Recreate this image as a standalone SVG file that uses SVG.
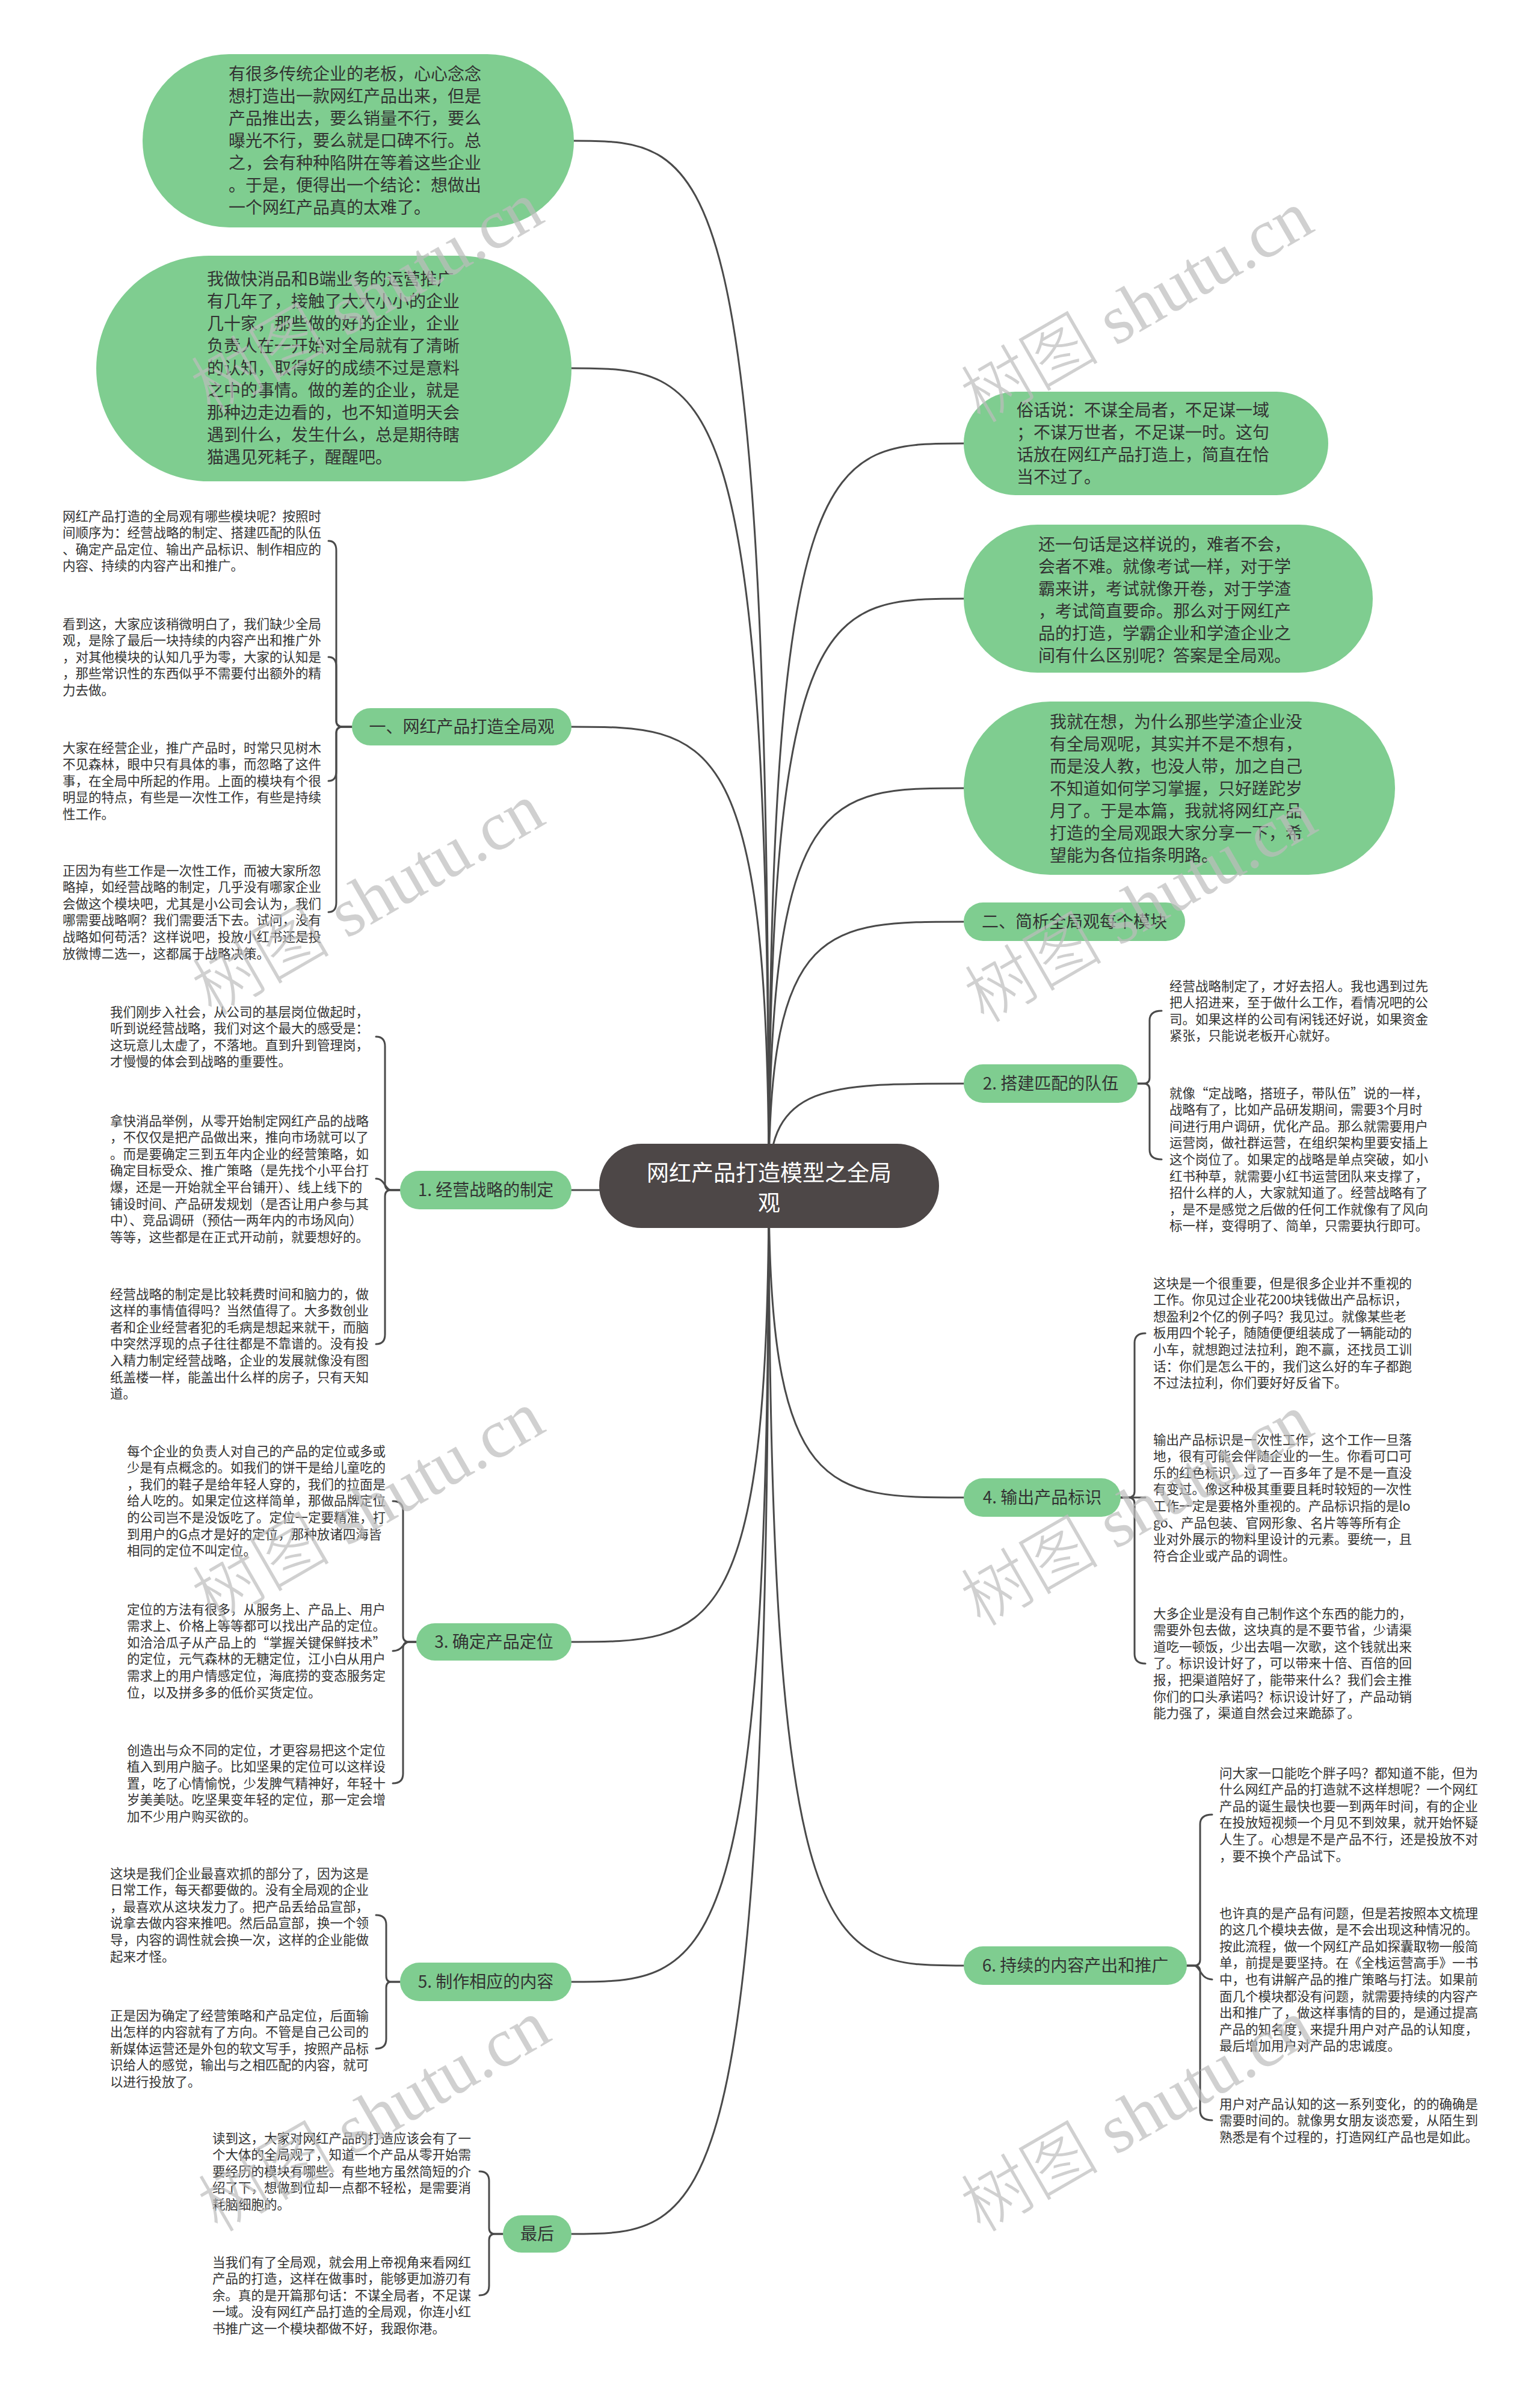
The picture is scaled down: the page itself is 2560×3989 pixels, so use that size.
<svg xmlns="http://www.w3.org/2000/svg" width="2560" height="3989" viewBox="0 0 2560 3989">
<style>
.bg{fill:#ffffff}
.node{fill:#7fcd90}
.root{fill:#4d4747}
.link{fill:none;stroke:#4a4a4a;stroke-width:3;stroke-linecap:round;stroke-linejoin:round}
.t{font-family:"Noto Sans CJK SC","Noto Sans",sans-serif;font-size:21.5px;fill:#333333}
.b{font-family:"Noto Sans CJK SC","Noto Sans",sans-serif;font-size:28px;fill:#333333}
.n{font-family:"Noto Sans CJK SC","Noto Sans",sans-serif;font-size:28px;fill:#333333;text-anchor:middle}
.c{font-family:"Noto Sans CJK SC","Noto Sans",sans-serif;font-size:37px;fill:#ffffff;text-anchor:middle}
.wm{font-size:115px;fill:#bdbdbd;opacity:0.7}
.wz{font-family:"Noto Sans CJK SC",sans-serif;font-weight:300}
.we{font-family:"Liberation Serif",serif}
</style>
<rect class="bg" x="0" y="0" width="2560" height="3989"/>

<g id="connectors">
<path class="link" d="M1278 1970 C1278 234 1180.8 234 954 234"/>
<path class="link" d="M1278 1970 C1278 612 1179.6 612 950 612"/>
<path class="link" d="M1278 1970 C1278 1208 1179.6 1208 950 1208"/>
<path class="link" d="M1278 1970 C1278 1978 1179.6 1978 950 1978"/>
<path class="link" d="M1278 1970 C1278 2729 1179.6 2729 950 2729"/>
<path class="link" d="M1278 1970 C1278 3294 1179.6 3294 950 3294"/>
<path class="link" d="M1278 1970 C1278 3713 1179.6 3713 950 3713"/>
<path class="link" d="M1278 1970 C1278 737 1375.2 737 1602 737"/>
<path class="link" d="M1278 1970 C1278 995 1375.2 995 1602 995"/>
<path class="link" d="M1278 1970 C1278 1310 1375.2 1310 1602 1310"/>
<path class="link" d="M1278 1970 C1278 1532 1375.2 1532 1602 1532"/>
<path class="link" d="M1278 1970 C1278 1801 1375.2 1801 1602 1801"/>
<path class="link" d="M1278 1970 C1278 2489 1375.2 2489 1602 2489"/>
<path class="link" d="M1278 1970 C1278 3267 1375.2 3267 1602 3267"/>

<path class="link" d="M585 1208 L570 1208 Q559 1208 559 1198 L559 915 Q559 899 546 899"/>
<path class="link" d="M585 1208 L570 1208 Q559 1208 559 1198 L559 1108 Q559 1092 546 1092"/>
<path class="link" d="M585 1208 L570 1208 Q559 1208 559 1218 L559 1282 Q559 1298 546 1298"/>
<path class="link" d="M585 1208 L570 1208 Q559 1208 559 1218 L559 1500 Q559 1516 546 1516"/>

<path class="link" d="M665 1978 L650 1978 Q640 1978 640 1968 L640 1739 Q640 1723 625 1723"/>
<path class="link" d="M665 1978 L650 1978 C640 1978 640 1959 625 1959"/>
<path class="link" d="M665 1978 L650 1978 Q640 1978 640 1988 L640 2218 Q640 2234 625 2234"/>

<path class="link" d="M692 2729 L680 2729 Q670 2729 670 2719 L670 2511 Q670 2495 653 2495"/>
<path class="link" d="M692 2729 L680 2729 C670 2729 670 2744 653 2744"/>
<path class="link" d="M692 2729 L680 2729 Q670 2729 670 2739 L670 2948 Q670 2964 653 2964"/>

<path class="link" d="M665 3294 L650 3294 Q642 3294 642 3284 L642 3199 Q642 3183 625 3183"/>
<path class="link" d="M665 3294 L650 3294 Q642 3294 642 3304 L642 3389 Q642 3405 625 3405"/>

<path class="link" d="M836 3713 L823 3713 Q813 3713 813 3703 L813 3625 Q813 3609 797 3609"/>
<path class="link" d="M836 3713 L823 3713 Q813 3713 813 3723 L813 3799 Q813 3815 797 3815"/>

<path class="link" d="M1891 1801 L1901 1801 Q1911 1801 1911 1791 L1911 1696 Q1911 1680 1931 1680"/>
<path class="link" d="M1891 1801 L1901 1801 Q1911 1801 1911 1811 L1911 1911 Q1911 1927 1931 1927"/>

<path class="link" d="M1863 2489 L1875 2489 Q1886 2489 1886 2479 L1886 2232 Q1886 2216 1904 2216"/>
<path class="link" d="M1863 2489 L1904 2489"/>
<path class="link" d="M1863 2489 L1875 2489 Q1886 2489 1886 2499 L1886 2749 Q1886 2765 1904 2765"/>

<path class="link" d="M1973 3267 L1985 3267 Q1995 3267 1995 3257 L1995 3032 Q1995 3016 2015 3016"/>
<path class="link" d="M1973 3267 L1985 3267 C1995 3267 1995 3290 2015 3290"/>
<path class="link" d="M1973 3267 L1985 3267 Q1995 3267 1995 3277 L1995 3508 Q1995 3524 2015 3524"/>
</g>

<g id="root">
<rect class="root" x="996" y="1901" width="565" height="140" rx="70"/>
<text class="c"><tspan x="1278.5" y="1963">网红产品打造模型之全局</tspan><tspan x="1278.5" y="2013">观</tspan></text>
</g>

<g id="bubble-l1">
<rect class="node" x="237" y="90" width="717" height="288" rx="144"/>
<text class="b"><tspan x="380" y="133">有很多传统企业的老板，心心念念</tspan><tspan x="380" y="170">想打造出一款网红产品出来，但是</tspan><tspan x="380" y="207">产品推出去，要么销量不行，要么</tspan><tspan x="380" y="244">曝光不行，要么就是口碑不行。总</tspan><tspan x="380" y="281">之，会有种种陷阱在等着这些企业</tspan><tspan x="380" y="318">。于是，便得出一个结论：想做出</tspan><tspan x="380" y="355">一个网红产品真的太难了。</tspan></text>
</g>

<g id="bubble-l2">
<rect class="node" x="160" y="425" width="790" height="375" rx="187.5"/>
<text class="b"><tspan x="344" y="474">我做快消品和B端业务的运营推广</tspan><tspan x="344" y="511">有几年了，接触了大大小小的企业</tspan><tspan x="344" y="548">几十家，那些做的好的企业，企业</tspan><tspan x="344" y="585">负责人在一开始对全局就有了清晰</tspan><tspan x="344" y="622">的认知，取得好的成绩不过是意料</tspan><tspan x="344" y="659">之中的事情。做的差的企业，就是</tspan><tspan x="344" y="696">那种边走边看的，也不知道明天会</tspan><tspan x="344" y="733">遇到什么，发生什么，总是期待瞎</tspan><tspan x="344" y="770">猫遇见死耗子，醒醒吧。</tspan></text>
</g>

<g id="bubble-r1">
<rect class="node" x="1602" y="651" width="606" height="172" rx="86"/>
<text class="b"><tspan x="1690" y="692">俗话说：不谋全局者，不足谋一域</tspan><tspan x="1690" y="729">；不谋万世者，不足谋一时。这句</tspan><tspan x="1690" y="766">话放在网红产品打造上，简直在恰</tspan><tspan x="1690" y="803">当不过了。</tspan></text>
</g>

<g id="bubble-r2">
<rect class="node" x="1602" y="872" width="680" height="246" rx="123"/>
<text class="b"><tspan x="1726" y="915">还一句话是这样说的，难者不会，</tspan><tspan x="1726" y="952">会者不难。就像考试一样，对于学</tspan><tspan x="1726" y="989">霸来讲，考试就像开卷，对于学渣</tspan><tspan x="1726" y="1026">，考试简直要命。那么对于网红产</tspan><tspan x="1726" y="1063">品的打造，学霸企业和学渣企业之</tspan><tspan x="1726" y="1100">间有什么区别呢？答案是全局观。</tspan></text>
</g>

<g id="bubble-r3">
<rect class="node" x="1602" y="1166" width="717" height="288" rx="144"/>
<text class="b"><tspan x="1745" y="1210">我就在想，为什么那些学渣企业没</tspan><tspan x="1745" y="1247">有全局观呢，其实并不是不想有，</tspan><tspan x="1745" y="1284">而是没人教，也没人带，加之自己</tspan><tspan x="1745" y="1321">不知道如何学习掌握，只好蹉跎岁</tspan><tspan x="1745" y="1358">月了。于是本篇，我就将网红产品</tspan><tspan x="1745" y="1395">打造的全局观跟大家分享一下，希</tspan><tspan x="1745" y="1432">望能为各位指条明路。</tspan></text>
</g>

<g id="node-part1">
<rect class="node" x="585" y="1177" width="365" height="62" rx="31"/>
<text class="n" x="767.5" y="1218">一、网红产品打造全局观</text>
<text class="t"><tspan x="104" y="865.5">网红产品打造的全局观有哪些模块呢？按照时</tspan><tspan x="104" y="893.1">间顺序为：经营战略的制定、搭建匹配的队伍</tspan><tspan x="104" y="920.7">、确定产品定位、输出产品标识、制作相应的</tspan><tspan x="104" y="948.3">内容、持续的内容产出和推广。</tspan></text>
<text class="t"><tspan x="104" y="1044.5">看到这，大家应该稍微明白了，我们缺少全局</tspan><tspan x="104" y="1072.1">观，是除了最后一块持续的内容产出和推广外</tspan><tspan x="104" y="1099.7">，对其他模块的认知几乎为零，大家的认知是</tspan><tspan x="104" y="1127.3">，那些常识性的东西似乎不需要付出额外的精</tspan><tspan x="104" y="1154.9">力去做。</tspan></text>
<text class="t"><tspan x="104" y="1250.5">大家在经营企业，推广产品时，时常只见树木</tspan><tspan x="104" y="1278.1">不见森林，眼中只有具体的事，而忽略了这件</tspan><tspan x="104" y="1305.7">事，在全局中所起的作用。上面的模块有个很</tspan><tspan x="104" y="1333.3">明显的特点，有些是一次性工作，有些是持续</tspan><tspan x="104" y="1360.9">性工作。</tspan></text>
<text class="t"><tspan x="104" y="1454.5">正因为有些工作是一次性工作，而被大家所忽</tspan><tspan x="104" y="1482.1">略掉，如经营战略的制定，几乎没有哪家企业</tspan><tspan x="104" y="1509.7">会做这个模块吧，尤其是小公司会认为，我们</tspan><tspan x="104" y="1537.3">哪需要战略啊？我们需要活下去。试问，没有</tspan><tspan x="104" y="1564.9">战略如何苟活？这样说吧，投放小红书还是投</tspan><tspan x="104" y="1592.5">放微博二选一，这都属于战略决策。</tspan></text>
</g>

<g id="node-part2">
<rect class="node" x="1602" y="1500" width="368" height="64" rx="32"/>
<text class="n" x="1786" y="1542">二、简析全局观每个模块</text>
</g>

<g id="node-strategy">
<rect class="node" x="665" y="1946" width="285" height="64" rx="32"/>
<text class="n" x="807.5" y="1988">1. 经营战略的制定</text>
<text class="t"><tspan x="183" y="1689.5">我们刚步入社会，从公司的基层岗位做起时，</tspan><tspan x="183" y="1717.1">听到说经营战略，我们对这个最大的感受是：</tspan><tspan x="183" y="1744.7">这玩意儿太虚了，不落地。直到升到管理岗，</tspan><tspan x="183" y="1772.3">才慢慢的体会到战略的重要性。</tspan></text>
<text class="t"><tspan x="183" y="1870.5">拿快消品举例，从零开始制定网红产品的战略</tspan><tspan x="183" y="1898.1">，不仅仅是把产品做出来，推向市场就可以了</tspan><tspan x="183" y="1925.7">。而是要确定三到五年内企业的经营策略，如</tspan><tspan x="183" y="1953.3">确定目标受众、推广策略（是先找个小平台打</tspan><tspan x="183" y="1980.9">爆，还是一开始就全平台铺开）、线上线下的</tspan><tspan x="183" y="2008.5">铺设时间、产品研发规划（是否让用户参与其</tspan><tspan x="183" y="2036.1">中）、竞品调研（预估一两年内的市场风向）</tspan><tspan x="183" y="2063.7">等等，这些都是在正式开动前，就要想好的。</tspan></text>
<text class="t"><tspan x="183" y="2158.5">经营战略的制定是比较耗费时间和脑力的，做</tspan><tspan x="183" y="2186.1">这样的事情值得吗？当然值得了。大多数创业</tspan><tspan x="183" y="2213.7">者和企业经营者犯的毛病是想起来就干，而脑</tspan><tspan x="183" y="2241.3">中突然浮现的点子往往都是不靠谱的。没有投</tspan><tspan x="183" y="2268.9">入精力制定经营战略，企业的发展就像没有图</tspan><tspan x="183" y="2296.5">纸盖楼一样，能盖出什么样的房子，只有天知</tspan><tspan x="183" y="2324.1">道。</tspan></text>
</g>

<g id="node-team">
<rect class="node" x="1602" y="1769" width="289" height="64" rx="32"/>
<text class="n" x="1746.5" y="1811">2. 搭建匹配的队伍</text>
<text class="t"><tspan x="1944" y="1646.5">经营战略制定了，才好去招人。我也遇到过先</tspan><tspan x="1944" y="1674.1">把人招进来，至于做什么工作，看情况吧的公</tspan><tspan x="1944" y="1701.7">司。如果这样的公司有闲钱还好说，如果资金</tspan><tspan x="1944" y="1729.3">紧张，只能说老板开心就好。</tspan></text>
<text class="t"><tspan x="1944" y="1824.5">就像“定战略，搭班子，带队伍”说的一样，</tspan><tspan x="1944" y="1852.1">战略有了，比如产品研发期间，需要3个月时</tspan><tspan x="1944" y="1879.7">间进行用户调研，优化产品。那么就需要用户</tspan><tspan x="1944" y="1907.3">运营岗，做社群运营，在组织架构里要安插上</tspan><tspan x="1944" y="1934.9">这个岗位了。如果定的战略是单点突破，如小</tspan><tspan x="1944" y="1962.5">红书种草，就需要小红书运营团队来支撑了，</tspan><tspan x="1944" y="1990.1">招什么样的人，大家就知道了。经营战略有了</tspan><tspan x="1944" y="2017.7">，是不是感觉之后做的任何工作就像有了风向</tspan><tspan x="1944" y="2045.3">标一样，变得明了、简单，只需要执行即可。</tspan></text>
</g>

<g id="node-position">
<rect class="node" x="692" y="2698" width="258" height="62" rx="31"/>
<text class="n" x="821" y="2739">3. 确定产品定位</text>
<text class="t"><tspan x="211" y="2419.5">每个企业的负责人对自己的产品的定位或多或</tspan><tspan x="211" y="2447.1">少是有点概念的。如我们的饼干是给儿童吃的</tspan><tspan x="211" y="2474.7">，我们的鞋子是给年轻人穿的，我们的拉面是</tspan><tspan x="211" y="2502.3">给人吃的。如果定位这样简单，那做品牌定位</tspan><tspan x="211" y="2529.9">的公司岂不是没饭吃了。定位一定要精准，打</tspan><tspan x="211" y="2557.5">到用户的G点才是好的定位，那种放诸四海皆</tspan><tspan x="211" y="2585.1">相同的定位不叫定位。</tspan></text>
<text class="t"><tspan x="211" y="2682.5">定位的方法有很多，从服务上、产品上、用户</tspan><tspan x="211" y="2710.1">需求上、价格上等等都可以找出产品的定位。</tspan><tspan x="211" y="2737.7">如洽洽瓜子从产品上的“掌握关键保鲜技术”</tspan><tspan x="211" y="2765.3">的定位，元气森林的无糖定位，江小白从用户</tspan><tspan x="211" y="2792.9">需求上的用户情感定位，海底捞的变态服务定</tspan><tspan x="211" y="2820.5">位，以及拼多多的低价买货定位。</tspan></text>
<text class="t"><tspan x="211" y="2916.5">创造出与众不同的定位，才更容易把这个定位</tspan><tspan x="211" y="2944.1">植入到用户脑子。比如坚果的定位可以这样设</tspan><tspan x="211" y="2971.7">置，吃了心情愉悦，少发脾气精神好，年轻十</tspan><tspan x="211" y="2999.3">岁美美哒。吃坚果变年轻的定位，那一定会增</tspan><tspan x="211" y="3026.9">加不少用户购买欲的。</tspan></text>
</g>

<g id="node-identity">
<rect class="node" x="1602" y="2457" width="261" height="64" rx="32"/>
<text class="n" x="1732.5" y="2499">4. 输出产品标识</text>
<text class="t"><tspan x="1917" y="2140.5">这块是一个很重要，但是很多企业并不重视的</tspan><tspan x="1917" y="2168.1">工作。你见过企业花200块钱做出产品标识，</tspan><tspan x="1917" y="2195.7">想盈利2个亿的例子吗？我见过。就像某些老</tspan><tspan x="1917" y="2223.3">板用四个轮子，随随便便组装成了一辆能动的</tspan><tspan x="1917" y="2250.9">小车，就想跑过法拉利，跑不赢，还找员工训</tspan><tspan x="1917" y="2278.5">话：你们是怎么干的，我们这么好的车子都跑</tspan><tspan x="1917" y="2306.1">不过法拉利，你们要好好反省下。</tspan></text>
<text class="t"><tspan x="1917" y="2400.5">输出产品标识是一次性工作，这个工作一旦落</tspan><tspan x="1917" y="2428.1">地，很有可能会伴随企业的一生。你看可口可</tspan><tspan x="1917" y="2455.7">乐的红色标识，过了一百多年了是不是一直没</tspan><tspan x="1917" y="2483.3">有变过。像这种极其重要且耗时较短的一次性</tspan><tspan x="1917" y="2510.9">工作一定是要格外重视的。产品标识指的是lo</tspan><tspan x="1917" y="2538.5">go、产品包装、官网形象、名片等等所有企</tspan><tspan x="1917" y="2566.1">业对外展示的物料里设计的元素。要统一，且</tspan><tspan x="1917" y="2593.7">符合企业或产品的调性。</tspan></text>
<text class="t"><tspan x="1917" y="2689.5">大多企业是没有自己制作这个东西的能力的，</tspan><tspan x="1917" y="2717.1">需要外包去做，这块真的是不要节省，少请渠</tspan><tspan x="1917" y="2744.7">道吃一顿饭，少出去唱一次歌，这个钱就出来</tspan><tspan x="1917" y="2772.3">了。标识设计好了，可以带来十倍、百倍的回</tspan><tspan x="1917" y="2799.9">报，把渠道陪好了，能带来什么？我们会主推</tspan><tspan x="1917" y="2827.5">你们的口头承诺吗？标识设计好了，产品动销</tspan><tspan x="1917" y="2855.1">能力强了，渠道自然会过来跪舔了。</tspan></text>
</g>

<g id="node-content">
<rect class="node" x="665" y="3262" width="285" height="64" rx="32"/>
<text class="n" x="807.5" y="3304">5. 制作相应的内容</text>
<text class="t"><tspan x="183" y="3121.5">这块是我们企业最喜欢抓的部分了，因为这是</tspan><tspan x="183" y="3149.1">日常工作，每天都要做的。没有全局观的企业</tspan><tspan x="183" y="3176.7">，最喜欢从这块发力了。把产品丢给品宣部，</tspan><tspan x="183" y="3204.3">说拿去做内容来推吧。然后品宣部，换一个领</tspan><tspan x="183" y="3231.9">导，内容的调性就会换一次，这样的企业能做</tspan><tspan x="183" y="3259.5">起来才怪。</tspan></text>
<text class="t"><tspan x="183" y="3357.5">正是因为确定了经营策略和产品定位，后面输</tspan><tspan x="183" y="3385.1">出怎样的内容就有了方向。不管是自己公司的</tspan><tspan x="183" y="3412.7">新媒体运营还是外包的软文写手，按照产品标</tspan><tspan x="183" y="3440.3">识给人的感觉，输出与之相匹配的内容，就可</tspan><tspan x="183" y="3467.9">以进行投放了。</tspan></text>
</g>

<g id="node-promotion">
<rect class="node" x="1602" y="3235" width="371" height="64" rx="32"/>
<text class="n" x="1787.5" y="3277">6. 持续的内容产出和推广</text>
<text class="t"><tspan x="2027" y="2954.5">问大家一口能吃个胖子吗？都知道不能，但为</tspan><tspan x="2027" y="2982.1">什么网红产品的打造就不这样想呢？一个网红</tspan><tspan x="2027" y="3009.7">产品的诞生最快也要一到两年时间，有的企业</tspan><tspan x="2027" y="3037.3">在投放短视频一个月见不到效果，就开始怀疑</tspan><tspan x="2027" y="3064.9">人生了。心想是不是产品不行，还是投放不对</tspan><tspan x="2027" y="3092.5">，要不换个产品试下。</tspan></text>
<text class="t"><tspan x="2027" y="3187.5">也许真的是产品有问题，但是若按照本文梳理</tspan><tspan x="2027" y="3215.1">的这几个模块去做，是不会出现这种情况的。</tspan><tspan x="2027" y="3242.7">按此流程，做一个网红产品如探囊取物一般简</tspan><tspan x="2027" y="3270.3">单，前提是要坚持。在《全栈运营高手》一书</tspan><tspan x="2027" y="3297.9">中，也有讲解产品的推广策略与打法。如果前</tspan><tspan x="2027" y="3325.5">面几个模块都没有问题，就需要持续的内容产</tspan><tspan x="2027" y="3353.1">出和推广了，做这样事情的目的，是通过提高</tspan><tspan x="2027" y="3380.7">产品的知名度，来提升用户对产品的认知度，</tspan><tspan x="2027" y="3408.3">最后增加用户对产品的忠诚度。</tspan></text>
<text class="t"><tspan x="2027" y="3504.5">用户对产品认知的这一系列变化，的的确确是</tspan><tspan x="2027" y="3532.1">需要时间的。就像男女朋友谈恋爱，从陌生到</tspan><tspan x="2027" y="3559.7">熟悉是有个过程的，打造网红产品也是如此。</tspan></text>
</g>

<g id="node-final">
<rect class="node" x="836" y="3682" width="114" height="62" rx="31"/>
<text class="n" x="893" y="3723">最后</text>
<text class="t"><tspan x="353" y="3561.5">读到这，大家对网红产品的打造应该会有了一</tspan><tspan x="353" y="3589.1">个大体的全局观了，知道一个产品从零开始需</tspan><tspan x="353" y="3616.7">要经历的模块有哪些。有些地方虽然简短的介</tspan><tspan x="353" y="3644.3">绍了下，想做到位却一点都不轻松，是需要消</tspan><tspan x="353" y="3671.9">耗脑细胞的。</tspan></text>
<text class="t"><tspan x="353" y="3767.5">当我们有了全局观，就会用上帝视角来看网红</tspan><tspan x="353" y="3795.1">产品的打造，这样在做事时，能够更加游刃有</tspan><tspan x="353" y="3822.7">余。真的是开篇那句话：不谋全局者，不足谋</tspan><tspan x="353" y="3850.3">一域。没有网红产品打造的全局观，你连小红</tspan><tspan x="353" y="3877.9">书推广这一个模块都做不好，我跟你港。</tspan></text>
</g>

<g id="watermarks">
<text class="wm" transform="translate(350 690) rotate(-30)"><tspan class="wz">树图</tspan><tspan class="we"> shutu.cn</tspan></text>
<text class="wm" transform="translate(352 1690) rotate(-30)"><tspan class="wz">树图</tspan><tspan class="we"> shutu.cn</tspan></text>
<text class="wm" transform="translate(352 2700) rotate(-30)"><tspan class="wz">树图</tspan><tspan class="we"> shutu.cn</tspan></text>
<text class="wm" transform="translate(362 3712) rotate(-30)"><tspan class="wz">树图</tspan><tspan class="we"> shutu.cn</tspan></text>
<text class="wm" transform="translate(1630 705) rotate(-30)"><tspan class="wz">树图</tspan><tspan class="we"> shutu.cn</tspan></text>
<text class="wm" transform="translate(1636 1702) rotate(-30)"><tspan class="wz">树图</tspan><tspan class="we"> shutu.cn</tspan></text>
<text class="wm" transform="translate(1630 2705) rotate(-30)"><tspan class="wz">树图</tspan><tspan class="we"> shutu.cn</tspan></text>
<text class="wm" transform="translate(1630 3712) rotate(-30)"><tspan class="wz">树图</tspan><tspan class="we"> shutu.cn</tspan></text>
</g>
</svg>
